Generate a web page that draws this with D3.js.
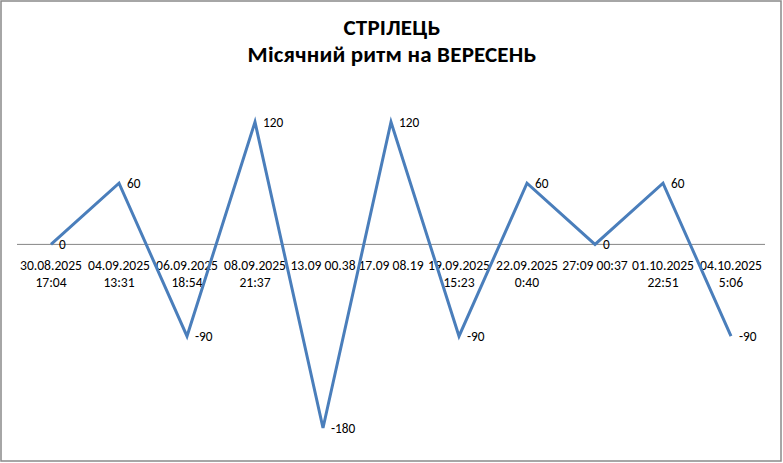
<!DOCTYPE html>
<html><head><meta charset="utf-8">
<script src="https://cdn.jsdelivr.net/npm/d3@7/dist/d3.min.js"></script>
<style>body{margin:0;background:#fff}svg{display:block}</style>
</head><body>
<svg id="c" width="783" height="463"></svg>
<script>
const categories = [
  ["30.08.2025","17:04"],
  ["04.09.2025","13:31"],
  ["06.09.2025","18:54"],
  ["08.09.2025","21:37"],
  ["13.09 00.38"],
  ["17.09 08.19"],
  ["19.09.2025","15:23"],
  ["22.09.2025","0:40"],
  ["27:09 00:37"],
  ["01.10.2025","22:51"],
  ["04.10.2025","5:06"]
];
const values = [0, 60, -90, 120, -180, 120, -90, 60, 0, 60, -90];
const titleLines = ["СТРІЛЕЦЬ", "Місячний ритм на ВЕРЕСЕНЬ"];

const svg = d3.select("#c");
const font = "Carlito, Calibri, 'Liberation Sans', Arial, sans-serif";

svg.append("rect").attr("x",1).attr("y",1).attr("width",780).attr("height",460)
  .attr("fill","#fff").attr("stroke","#898989").attr("stroke-width",1.5);

const idx = d3.range(categories.length);
const x = d3.scalePoint().domain(idx).range([17,765]).padding(0.5);
const y = d3.scaleLinear().domain([-180,120]).range([428,122]);

svg.selectAll("text.title").data(titleLines).join("text")
  .attr("x",392).attr("y",(d,i)=>35+i*27)
  .attr("text-anchor","middle").attr("font-family",font)
  .attr("font-weight","bold").attr("font-size",23).attr("fill","#000")
  .attr("letter-spacing",0.2)
  .text(d=>d);

// axis line at zero
svg.append("line").attr("x1",17).attr("x2",765).attr("y1",y(0)).attr("y2",y(0))
  .attr("stroke","#868686").attr("stroke-width",1);

// category labels
const cl = svg.append("g").attr("font-family",font).attr("font-size",13.6).attr("fill","#000");
categories.forEach((c,i)=>{
  c.forEach((t,j)=>{
    cl.append("text").attr("x",x(i)).attr("y",270+j*17).attr("text-anchor","middle").text(t);
  });
});

const line = d3.line().x((d,i)=>x(i)).y(d=>y(d));
svg.append("path").datum(values).attr("d",line).attr("fill","none")
  .attr("stroke","#4a7ebb").attr("stroke-width",3).attr("stroke-linejoin","miter");

svg.append("g").selectAll("text").data(values).join("text")
  .attr("x",(d,i)=>x(i)+8).attr("y",d=>y(d)+4.5)
  .attr("font-family",font).attr("font-size",13.3).attr("fill","#000")
  .text(d=>d);
</script>
</body></html>
